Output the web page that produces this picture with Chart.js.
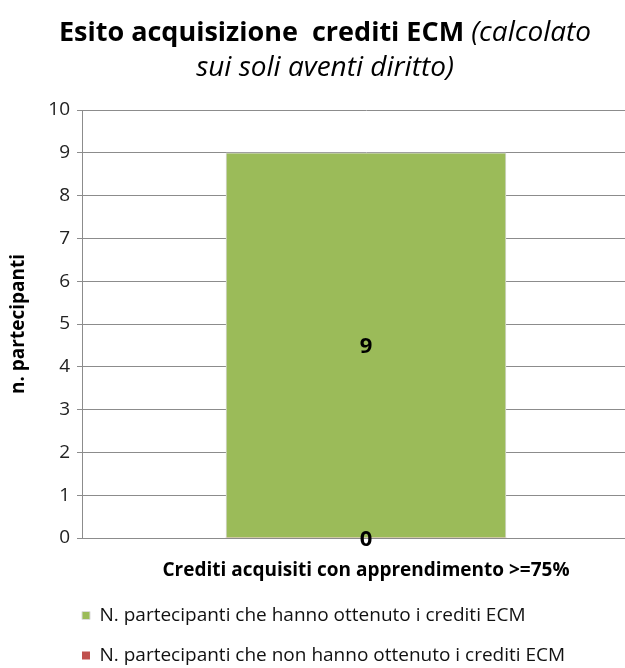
<!DOCTYPE html>
<html>
<head>
<meta charset="utf-8">
<title>Esito acquisizione crediti ECM</title>
<script src="https://cdn.jsdelivr.net/npm/chart.js@4/dist/chart.umd.min.js"></script>
<style>
  html, body { margin: 0; padding: 0; background: #fff; overflow: hidden; }
  #wrap { width: 650px; height: 675px; }
</style>
</head>
<body>
<div id="wrap"><canvas id="chartEcm" width="650" height="675"></canvas></div>
<script>
// categorie e serie
var categories = ["Crediti acquisiti con apprendimento >=75%"];
var seriesNames = [
    "N. partecipanti che hanno ottenuto i crediti ECM",
    "N. partecipanti che non hanno ottenuto i crediti ECM"
];
var ottenuti = [9];
var nonOttenuti = [0];
var yTicks = [0, 1, 2, 3, 4, 5, 6, 7, 8, 9, 10];

var FONT = "'Open Sans', sans-serif";
var GRID = "#8c8c8c";

// titolo con parte in grassetto e parte in corsivo
var titlePlugin = {
    id: 'titleMix',
    afterDraw: function(chart) {
        var ctx = chart.ctx;
        var cx = chart.width / 2;
        ctx.save();
        ctx.fillStyle = "#000";
        ctx.textBaseline = "middle";
        var boldFont = "bold 27px " + FONT;
        var italFont = "italic 28px " + FONT;
        var part1 = "Esito acquisizione  crediti ECM ";
        var part2 = "(calcolato";
        ctx.font = boldFont;
        var w1 = ctx.measureText(part1).width;
        ctx.font = italFont;
        var w2 = ctx.measureText(part2).width;
        var x = cx - (w1 + w2) / 2;
        ctx.textAlign = "left";
        ctx.font = boldFont;
        ctx.fillText(part1, x, 33);
        ctx.font = italFont;
        ctx.fillText(part2, x + w1, 33);
        ctx.textAlign = "center";
        ctx.fillText("sui soli aventi diritto)", cx, 68);
        ctx.restore();
    }
};

// etichette dei valori
var valueLabels = {
    id: 'valueLabels',
    afterDatasetsDraw: function(chart) {
        var ctx = chart.ctx;
        ctx.save();
        ctx.font = "bold 22px " + FONT;
        ctx.fillStyle = "#000";
        ctx.textAlign = "center";
        ctx.textBaseline = "middle";
        chart.data.datasets.forEach(function(ds, i) {
            chart.getDatasetMeta(i).data.forEach(function(bar, j) {
                ctx.fillText(ds.data[j], bar.x, (bar.y + bar.base) / 2 + 2);
            });
        });
        ctx.restore();
    }
};

// legenda allineata con l'asse
var legendIndent = {
    id: 'legendIndent',
    afterLayout: function(chart) {
        chart.legend.left = 61;
    }
};

var dataChartEcm = {
    labels: categories,
    datasets: [{
        label: seriesNames[0],
        backgroundColor: "#9BBB59",
        borderColor: "#dcdcdc",
        borderWidth: 1,
        data: ottenuti
    }, {
        label: seriesNames[1],
        backgroundColor: "#C0504D",
        borderWidth: 0,
        data: nonOttenuti
    }]
};

var myChartEcm = new Chart(document.getElementById("chartEcm").getContext("2d"), {
    type: 'bar',
    data: dataChartEcm,
    plugins: [titlePlugin, valueLabels, legendIndent],
    options: {
        responsive: false,
        animation: false,
        layout: { padding: { top: 110, left: 0, right: 0, bottom: 0 } },
        datasets: { bar: { grouped: false, barThickness: 280 } },
        plugins: {
            title: { display: false },
            tooltip: { enabled: false },
            legend: {
                position: 'bottom',
                align: 'start',
                labels: {
                    boxWidth: 8,
                    boxHeight: 8,
                    padding: 21,
                    color: "#111",
                    font: { family: FONT, size: 19 }
                }
            }
        },
        scales: {
            x: {
                grid: { display: false, drawTicks: false },
                border: { display: true, color: GRID, width: 1 },
                ticks: {
                    padding: 21,
                    color: "#000",
                    font: { family: FONT, size: 19, weight: 'bold' }
                },
                afterFit: function(scale) { scale.height = 47; }
            },
            y: {
                min: 0,
                max: 10,
                afterBuildTicks: function(scale) {
                    scale.ticks = yTicks.map(function(v) { return { value: v }; });
                },
                grid: { color: GRID, tickLength: 5 },
                border: { display: true, color: GRID, width: 1 },
                ticks: {
                    padding: 7,
                    color: "#222",
                    font: { family: FONT, size: 19 }
                },
                title: {
                    display: true,
                    text: "n. partecipanti",
                    color: "#000",
                    padding: { top: 7, bottom: 0 },
                    font: { family: FONT, size: 19, weight: 'bold' }
                },
                afterFit: function(scale) { scale.width = 82; }
            }
        }
    }
});
</script>
</body>
</html>
